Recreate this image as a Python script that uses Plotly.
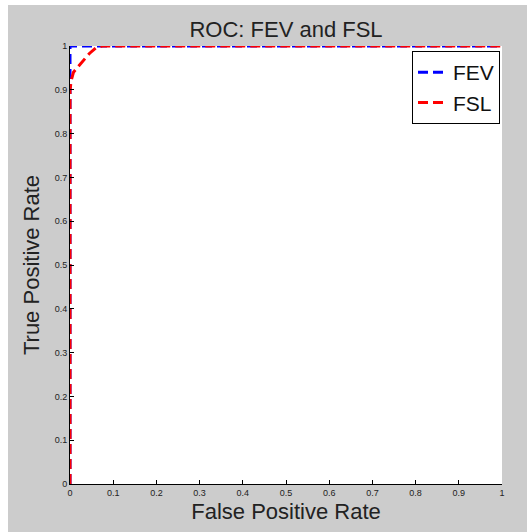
import plotly.graph_objects as go

# ROC data
fev_fpr = [0, 0, 1]
fev_tpr = [0, 1, 1]

fsl_fpr = [0, 0, 0.003, 0.008, 0.018, 0.03, 0.045, 0.06, 0.075, 1]
fsl_tpr = [0, 0.90, 0.922, 0.94, 0.952, 0.965, 0.983, 0.996, 1, 1]

tick_vals = [0, 0.1, 0.2, 0.3, 0.4, 0.5, 0.6, 0.7, 0.8, 0.9, 1]
tick_text = ["0", "0.1", "0.2", "0.3", "0.4", "0.5", "0.6", "0.7", "0.8", "0.9", "1"]

FONT = "Liberation Sans, Arial, Helvetica, sans-serif"
GRAY = "#cccccc"

fig = go.Figure()
fig.add_trace(go.Scatter(
    x=fev_fpr, y=fev_tpr, mode="lines", name="FEV",
    line=dict(color="#0000ff", width=3, dash="10px,5px"),
))
fig.add_trace(go.Scatter(
    x=fsl_fpr, y=fsl_tpr, mode="lines", name="FSL",
    line=dict(color="#ff0000", width=3, dash="10px,5px"),
))

# page offset (body margin) : left 8, top 5
OX, OY = 8, 5
W, H = 527 - OX, 532 - OY
L, R, T, B = 70 - OX, 25, 46 - OY, 48
pw, ph = W - L - R, H - T - B

axis_common = dict(
    range=[0, 1], tickvals=tick_vals, ticktext=tick_text,
    ticks="inside", ticklen=4, tickwidth=1, tickcolor="#000",
    showline=True, linecolor="#000", linewidth=1, mirror=False,
    showgrid=False, zeroline=False,
    tickfont=dict(family=FONT, size=9, color="#222"),
    title_font=dict(family=FONT, size=22, color="#222"),
)

fig.update_layout(
    width=W, height=H,
    margin=dict(l=L, r=R, t=T, b=B, autoexpand=False),
    paper_bgcolor=GRAY, plot_bgcolor="#ffffff",
    title=dict(text="ROC: FEV and FSL", x=(L + pw / 2) / W, xanchor="center",
               y=1 - (29.3 - OY) / H, yanchor="middle", yref="container",
               font=dict(family=FONT, size=22, color="#222")),
    xaxis=dict(axis_common, title=dict(text="False Positive Rate", standoff=6)),
    yaxis=dict(axis_common, title=dict(text="True Positive Rate", standoff=8)),
    legend=dict(x=(500 - 70) / pw, xanchor="right", y=(484 - 51) / ph, yanchor="top",
                bgcolor="#ffffff", bordercolor="#000", borderwidth=1,
                font=dict(family=FONT, size=21, color="#111"),
                traceorder="normal"),
    showlegend=True,
)

fig.write_html("out.html",
               post_script="document.body.style.margin='%dpx 0 0 %dpx';" % (OY, OX))
